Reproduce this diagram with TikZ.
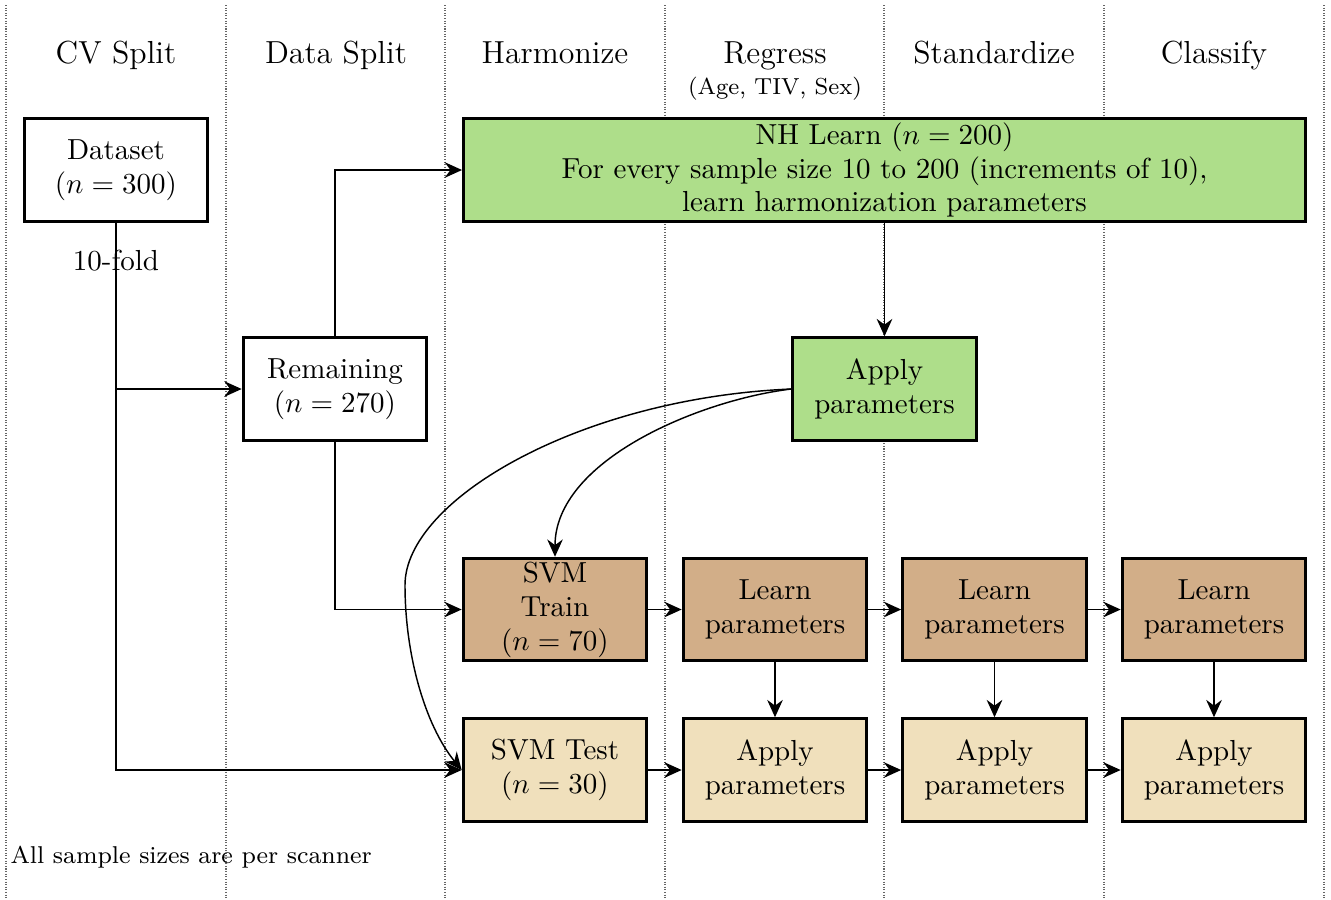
\documentclass[tikz,border=0pt]{standalone}
\usetikzlibrary{arrows.meta}
\definecolor{nhgreen}{RGB}{174,222,138}
\definecolor{trainbrown}{RGB}{210,174,136}
\definecolor{testtan}{RGB}{240,224,188}
\tikzset{
  box/.style={draw=black, line width=1pt, minimum width=63.4pt, minimum height=35.4pt,
              align=center, inner sep=1pt, font=\fontsize{10}{11.7}\selectfont},
  greenbox/.style={box, fill=nhgreen},
  trainbox/.style={box, fill=trainbrown},
  testbox/.style={box, fill=testtan},
  conn/.style={line width=0.5pt, -{Stealth[length=6pt,width=5.4pt,inset=2pt]}},
  lane/.style={line width=0.5pt, black!60, dash pattern=on 0.35pt off 0.55pt},
  head/.style={anchor=base, font=\fontsize{11}{13}\selectfont},
}
\begin{document}
\begin{tikzpicture}[x=0.345pt, y=-0.345pt]
  \useasboundingbox (0,0) rectangle (1331,899);

  % column separators
  \foreach \xx in {6,226,445,665,884,1104,1324}
    \draw[lane] (\xx,5) -- (\xx,899);

  % column headings
  \node[head] (hcv)  at (116,63)  {CV Split};
  \node[head] (hds)  at (336,63)  {Data Split};
  \node[head] (hhar) at (555,63)  {Harmonize};
  \node[head] (hreg) at (775,63)  {Regress};
  \node[anchor=base, font=\footnotesize] (hregsub) at (775,94) {(Age, TIV, Sex)};
  \node[head] (hstd) at (994,63)  {Standardize};
  \node[head] (hcls) at (1214,63) {Classify};

  % boxes
  \node[box] (data) at (116,170) {Dataset\\$(n=300)$};
  \node[box] (rem)  at (335,389) {Remaining\\$(n=270)$};
  \node[greenbox, minimum width=290.5pt] (nh) at (884.5,170)
    {NH Learn $(n=200)$\\For every sample size 10 to 200 (increments of 10),\\learn harmonization parameters};
  \node[greenbox] (apply) at (884.5,389) {Apply\\parameters};

  \node[trainbox] (train) at (555,609.5)  {SVM\\Train\\$(n=70)$};
  \node[trainbox] (lreg)  at (775,609.5)  {Learn\\parameters};
  \node[trainbox] (lstd)  at (994.5,609.5) {Learn\\parameters};
  \node[trainbox] (lcls)  at (1214,609.5) {Learn\\parameters};

  \node[testbox] (test) at (555,770)  {SVM Test\\$(n=30)$};
  \node[testbox] (areg) at (775,770)  {Apply\\parameters};
  \node[testbox] (astd) at (994.5,770) {Apply\\parameters};
  \node[testbox] (acls) at (1214,770) {Apply\\parameters};

  % cross-validation split
  \draw[conn] (data.south) |- (test.west);
  \draw[conn] (data.south |- rem.west) -- (rem.west);
  \node[anchor=base, font=\fontsize{10}{12}\selectfont] (fold) at (116,270) {10-fold};

  % remaining data feeds harmonization learning and training
  \draw[conn] (rem.north) |- (nh.west);
  \draw[conn] (rem.south) |- (train.west);

  % harmonization
  \coordinate (bend) at (405,585);
  \draw[conn] (nh.south) -- (apply.north);
  \draw[conn] (apply.west) .. controls (700,400) and (555,460) .. (train.north);
  \draw[conn] (apply.west) .. controls (580,398) and (405,500) .. (bend)
                           .. controls (405,655) and (425,725) .. (test.west);

  % pipeline rows
  \draw[conn] (train) -- (lreg);
  \draw[conn] (lreg) -- (lstd);
  \draw[conn] (lstd) -- (lcls);
  \draw[conn] (test) -- (areg);
  \draw[conn] (areg) -- (astd);
  \draw[conn] (astd) -- (acls);
  \draw[conn] (lreg) -- (areg);
  \draw[conn] (lstd) -- (astd);
  \draw[conn] (lcls) -- (acls);

  \node[anchor=base west, inner sep=0pt, font=\fontsize{8.4}{10}\selectfont] (note) at (10,863)
    {All sample sizes are per scanner};
\end{tikzpicture}
\end{document}
